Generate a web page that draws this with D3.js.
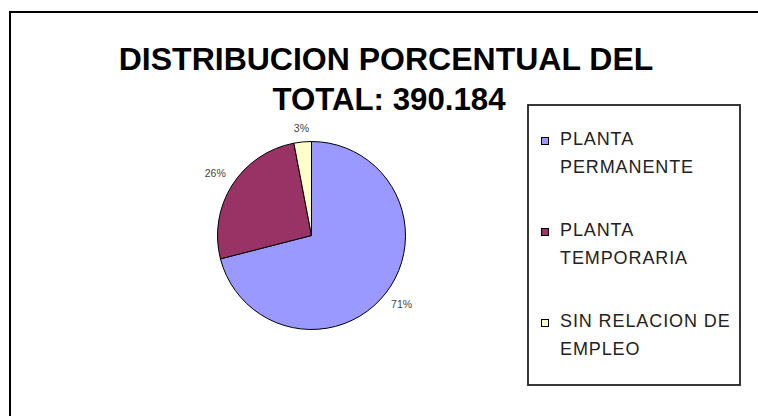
<!DOCTYPE html>
<html>
<head>
<meta charset="utf-8">
<script src="https://cdn.jsdelivr.net/npm/d3@7"></script>
<style>
  html, body { margin: 0; padding: 0; background: #fff; }
  svg { display: block; }
</style>
</head>
<body>
<svg id="chart" width="758" height="416"></svg>
<script>
const categories = ["PLANTA PERMANENTE", "PLANTA TEMPORARIA", "SIN RELACION DE EMPLEO"];
const legendLines = [["PLANTA", "PERMANENTE"], ["PLANTA", "TEMPORARIA"], ["SIN RELACION DE", "EMPLEO"]];
const values = [71, 26, 3];
const labels = ["71%", "26%", "3%"];
const colors = ["#9999FF", "#993366", "#FFFFCC"];
const titleLines = ["DISTRIBUCION PORCENTUAL DEL", "TOTAL: 390.184"];

const svg = d3.select("#chart");
const font = "Arial, 'Liberation Sans', sans-serif";

// outer frame
svg.append("rect").attr("x", 10).attr("y", 12).attr("width", 770).attr("height", 430)
  .attr("fill", "#fff").attr("stroke", "#000").attr("stroke-width", 2);

// title
svg.selectAll("text.title").data(titleLines).enter().append("text")
  .attr("class", "title")
  .attr("x", (d, i) => i === 0 ? 386 : 389)
  .attr("y", (d, i) => 70 + i * 40)
  .attr("text-anchor", "middle")
  .attr("font-family", font).attr("font-weight", "bold").attr("font-size", 32)
  .attr("fill", "#000")
  .each(function(d, i) { if (i === 1) d3.select(this).attr("textLength", 233).attr("lengthAdjust", "spacingAndGlyphs"); })
  .text(d => d);

// pie
const cx = 311.5, cy = 235.5, r = 94;
const pie = d3.pie().sort(null).startAngle(0).endAngle(2 * Math.PI)(values);
const arc = d3.arc().innerRadius(0).outerRadius(r);
const labelRadius = d => (d.endAngle - d.startAngle) < 0.3 ? 107 : 114;
const g = svg.append("g").attr("transform", `translate(${cx},${cy})`);
g.selectAll("path").data(pie).enter().append("path")
  .attr("d", arc)
  .attr("fill", (d, i) => colors[i])
  .attr("stroke", "#000").attr("stroke-width", 1);
g.selectAll("text").data(pie).enter().append("text")
  .attr("transform", d => {
    const lr = labelRadius(d);
    return `translate(${d3.arc().innerRadius(lr).outerRadius(lr).centroid(d)})`;
  })
  .attr("text-anchor", "middle").attr("dominant-baseline", "middle")
  .attr("font-family", font).attr("font-size", 10.5).attr("fill", "#444")
  .text((d, i) => labels[i]);

// legend
const lg = svg.append("g");
lg.append("rect").attr("x", 528).attr("y", 105).attr("width", 212).attr("height", 280)
  .attr("fill", "#fff").attr("stroke", "#222").attr("stroke-width", 1.8);
const items = lg.selectAll("g.item").data(categories).enter().append("g")
  .attr("class", "item")
  .attr("transform", (d, i) => `translate(0, ${145 + i * 91})`);
items.append("rect").attr("x", 541.5).attr("y", -7.5).attr("width", 7).attr("height", 7)
  .attr("fill", (d, i) => colors[i]).attr("stroke", "#000").attr("stroke-width", 1);
items.each(function(d, i) {
  d3.select(this).selectAll("text").data(legendLines[i]).enter().append("text")
    .attr("x", 560).attr("y", (t, j) => j * 27.5)
    .attr("font-family", font).attr("font-size", 18).attr("letter-spacing", 0.9).attr("fill", "#222")
    .text(t => t);
});
</script>
</body>
</html>
